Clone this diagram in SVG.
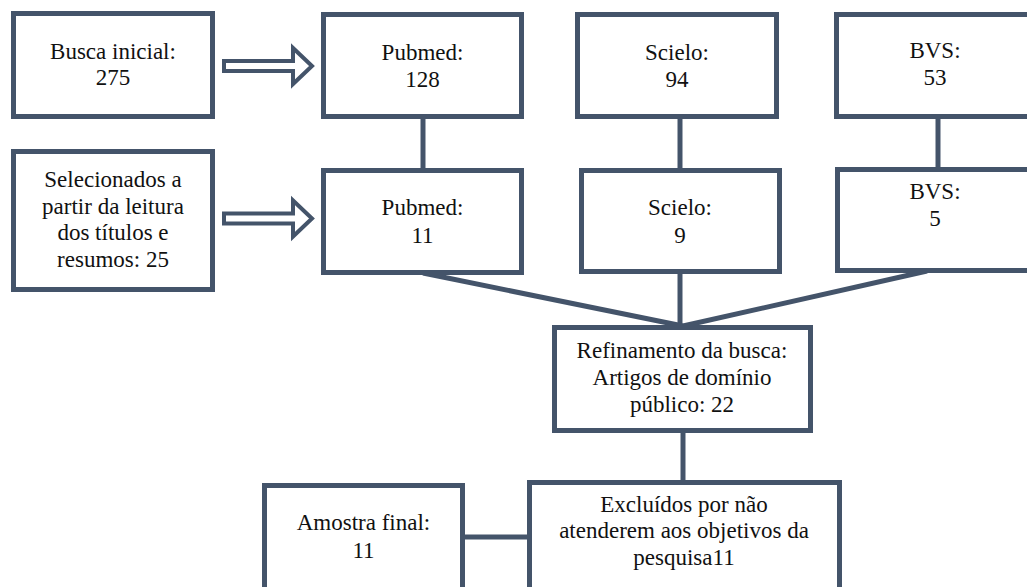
<svg xmlns="http://www.w3.org/2000/svg" width="1027" height="587" viewBox="0 0 1027 587">
<style>
.box{fill:#fff;stroke:#44546A;stroke-width:5}
.ln{stroke:#44546A;stroke-width:5;fill:none}
.arr{fill:#fff;stroke:#44546A;stroke-width:4;stroke-linejoin:miter}
</style>
<rect width="1027" height="587" fill="#fff"/>
<g id="connectors">
<line class="ln" x1="423" y1="117" x2="423" y2="170"/>
<line class="ln" x1="680" y1="114" x2="680" y2="170"/>
<line class="ln" x1="938" y1="117" x2="938" y2="169"/>
<line class="ln" x1="423" y1="273" x2="683" y2="326"/>
<line class="ln" x1="680" y1="272" x2="680" y2="326"/>
<line class="ln" x1="927" y1="271" x2="683" y2="326"/>
<line class="ln" x1="683" y1="431" x2="683" y2="482"/>
<line class="ln" x1="463" y1="537" x2="529" y2="537"/>
<polygon class="arr" points="224,61 293,61 293,48 312,66 293,84 293,71 224,71"/>
<polygon class="arr" points="224,213.5 293,213.5 293,200.5 312,218.5 293,236.5 293,223.5 224,223.5"/>
</g>
<g font-family="Liberation Serif, DejaVu Serif, serif" font-size="23" fill="#111" text-anchor="middle">
<g id="busca"><rect class="box" x="13.5" y="13.5" width="199" height="103"/><text x="113" y="59">Busca inicial:</text><text x="113" y="85">275</text></g>
<g id="selecionados"><rect class="box" x="13.5" y="151.5" width="199" height="138"/><text x="113" y="187">Selecionados a</text><text x="113" y="213.5">partir da leitura</text><text x="113" y="240">dos títulos e</text><text x="113" y="267">resumos: 25</text></g>
<g id="pubmed1"><rect class="box" x="323.5" y="14.5" width="198" height="102"/><text x="422.5" y="60">Pubmed:</text><text x="422.5" y="87">128</text></g>
<g id="pubmed2"><rect class="box" x="323.5" y="170.5" width="198" height="102"/><text x="422.5" y="215">Pubmed:</text><text x="422.5" y="243">11</text></g>
<g id="scielo1"><rect class="box" x="577.5" y="14.5" width="199" height="102"/><text x="677" y="60">Scielo:</text><text x="677" y="87">94</text></g>
<g id="scielo2"><rect class="box" x="581.5" y="170.5" width="198" height="101"/><text x="680" y="215">Scielo:</text><text x="680" y="243">9</text></g>
<g id="bvs1"><rect class="box" x="836.5" y="14.5" width="200" height="102"/><text x="935" y="58">BVS:</text><text x="935" y="85">53</text></g>
<g id="bvs2"><rect class="box" x="837.5" y="169.5" width="200" height="101"/><text x="935" y="199">BVS:</text><text x="935" y="226">5</text></g>
<g id="refinamento"><rect class="box" x="554.5" y="327.5" width="256" height="103"/><text x="682" y="358">Refinamento da busca:</text><text x="682" y="385">Artigos de domínio</text><text x="682" y="412">público: 22</text></g>
<g id="amostra"><rect class="box" x="264.5" y="485.5" width="198" height="120"/><text x="363.5" y="530">Amostra final:</text><text x="363.5" y="558">11</text></g>
<g id="excluidos"><rect class="box" x="529.5" y="482.5" width="310" height="120"/><text x="684" y="512">Excluídos por não</text><text x="684" y="538">atenderem aos objetivos da</text><text x="684" y="565">pesquisa11</text></g>
</g>
</svg>
